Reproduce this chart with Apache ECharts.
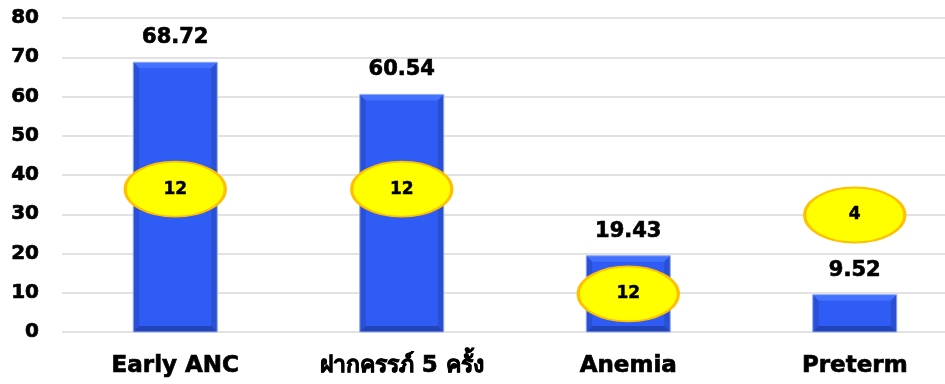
<!DOCTYPE html>
<html>
<head>
<meta charset="utf-8">
<script src="https://cdn.jsdelivr.net/npm/echarts@6/dist/echarts.min.js"></script>
<style>
  html, body { margin: 0; padding: 0; background: #fff; overflow: hidden; width: 945px; height: 384px; }
  #chart { width: 975px; height: 384px; }
</style>
</head>
<body>
<div id="chart"></div>
<script>
// Indicator results (%)
const categories = ['Early ANC', 'ฝากครรภ์ 5 ครั้ง', 'Anemia', 'Preterm'];
const percentValues = [68.72, 60.54, 19.43, 9.52];
// Counts shown in the yellow badges, and the height each badge sits at
const badgeCounts = [12, 12, 12, 4];
const badgeHeights = [36.4, 36.4, 9.7, 29.8];
// Value axis ticks
const yMin = 0, yMax = 80, yStep = 10;

const FONT = '"DejaVu Sans", Verdana, Tahoma, sans-serif';
const heavy = { textBorderColor: '#000', textBorderWidth: 0.7 };

const chart = echarts.init(document.getElementById('chart'));

// Bevelled edges drawn on top of each bar
function renderBevel(params, api) {
  const idx = api.value(0);
  const val = api.value(1);
  const top = api.coord([idx, val]);
  const base = api.coord([idx, 0]);
  const w = 84;
  const x0 = top[0] - w / 2, x1 = top[0] + w / 2;
  const y0 = top[1], y1 = base[1];
  const b = Math.min(6, (y1 - y0) / 3);
  const ix0 = x0 + b, ix1 = x1 - b, iy0 = y0 + b, iy1 = y1 - b;
  return {
    type: 'group',
    children: [
      { type: 'polygon', shape: { points: [[x0, y0], [x1, y0], [ix1, iy0], [ix0, iy0]] },
        style: { fill: '#4272ff' } },
      { type: 'polygon', shape: { points: [[x0, y0], [ix0, iy0], [ix0, iy1], [x0, y1]] },
        style: { fill: '#2a50d8' } },
      { type: 'polygon', shape: { points: [[x1, y0], [x1, y1], [ix1, iy1], [ix1, iy0]] },
        style: { fill: '#2a4fd2' } },
      { type: 'polygon', shape: { points: [[x0, y1], [ix0, iy1], [ix1, iy1], [x1, y1]] },
        style: { fill: '#2343b8' } },
      { type: 'rect', shape: { x: x0, y: y0, width: w, height: y1 - y0 },
        style: { fill: 'none', stroke: '#9db3ee', lineWidth: 1 } }
    ]
  };
}

chart.setOption({
  animation: false,
  grid: { left: 62, top: 18, right: 7, bottom: 52, containLabel: false },
  xAxis: {
    type: 'category',
    data: categories,
    axisLine: { show: false },
    axisTick: { show: false },
    axisLabel: Object.assign({
      color: '#000', fontFamily: FONT, fontWeight: 'bold', fontSize: 23, margin: 23
    }, heavy)
  },
  yAxis: {
    type: 'value',
    min: yMin, max: yMax, interval: yStep,
    axisLine: { show: false },
    axisTick: { show: false },
    axisLabel: Object.assign({
      color: '#000', fontFamily: FONT, fontWeight: 'bold', fontSize: 20, margin: 23
    }, heavy),
    splitLine: { lineStyle: { color: '#d9d9d9', width: 1.5 } }
  },
  series: [
    {
      type: 'bar',
      data: percentValues,
      barWidth: 84,
      itemStyle: { color: '#2f5cf4' },
      label: Object.assign({
        show: true, position: 'top', distance: 14,
        color: '#000', fontFamily: FONT, fontWeight: 'bold', fontSize: 21,
        formatter: p => p.value.toFixed(2)
      }, heavy),
      z: 2
    },
    {
      type: 'custom',
      renderItem: renderBevel,
      data: percentValues.map((v, i) => [i, v]),
      encode: { x: 0, y: 1 },
      silent: true,
      z: 3
    },
    {
      type: 'scatter',
      data: badgeHeights.map((h, i) => [i, h, badgeCounts[i]]),
      symbol: 'circle',
      symbolSize: [100, 55],
      itemStyle: { color: '#ffff00', borderColor: '#ffc000', borderWidth: 2.5, opacity: 1 },
      label: Object.assign({
        show: true, position: 'inside',
        color: '#000', fontFamily: FONT, fontWeight: 'bold', fontSize: 17,
        formatter: p => String(p.value[2])
      }, { textBorderColor: '#000', textBorderWidth: 0.5 }),
      z: 5
    }
  ]
});
</script>
</body>
</html>
